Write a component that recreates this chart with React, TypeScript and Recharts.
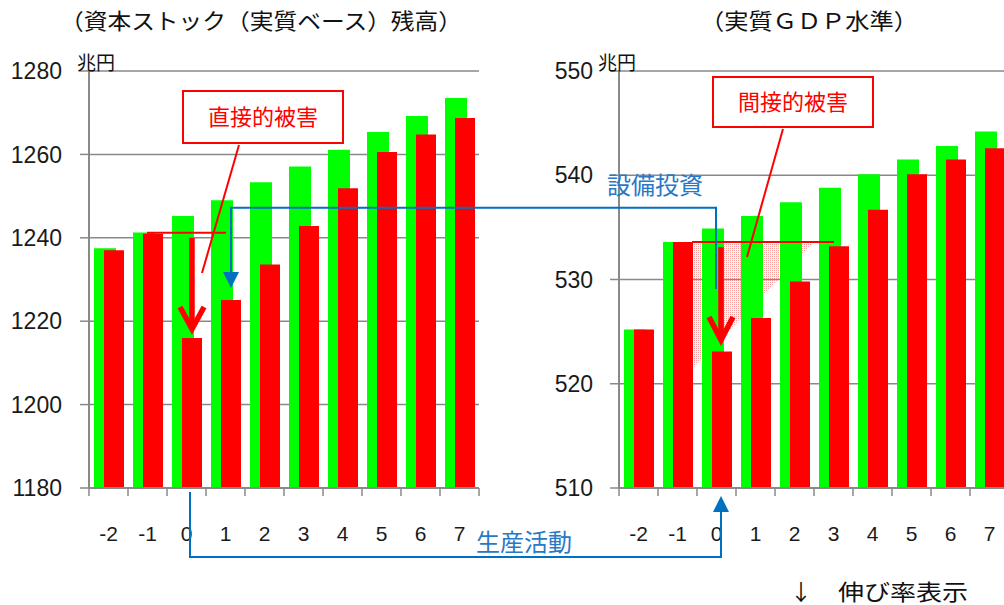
import React from "react";
import { BarChart, Bar, XAxis, YAxis, CartesianGrid } from "recharts";

// years relative to the disaster (0 = the year it hits)
const categories = ["-2", "-1", "0", "1", "2", "3", "4", "5", "6", "7"];

// capital stock (real), trillion yen
const stockBase = [1237.5, 1241.3, 1245.2, 1249.0, 1253.3, 1257.1, 1261.1, 1265.4, 1269.2, 1273.5];
const stockDamaged = [1237.0, 1241.0, 1216.0, 1225.1, 1233.6, 1242.8, 1251.9, 1260.6, 1264.8, 1268.7];
const stockTicks = [1180, 1200, 1220, 1240, 1260, 1280];

// real GDP level, trillion yen
const gdpBase = [525.2, 533.6, 534.9, 536.1, 537.4, 538.8, 540.1, 541.5, 542.8, 544.2];
const gdpDamaged = [525.2, 533.6, 523.1, 526.3, 529.8, 533.2, 536.7, 540.1, 541.5, 542.6];
const gdpTicks = [510, 520, 530, 540, 550];

const stockData = categories.map((cat, i) => ({ cat, base: stockBase[i], damaged: stockDamaged[i] }));
const gdpData = categories.map((cat, i) => ({ cat, base: gdpBase[i], damaged: gdpDamaged[i] }));

const GRAY = "#898989";
const GREEN = "#00ff00";
const RED = "#ff0000";
const BLUE = "#0070c0";
const NUM_FONT = "'Liberation Sans', Arial, sans-serif";
const JP_FONT = "'Noto Sans CJK JP', sans-serif";

const CHART_W = 490;
const CHART_H = 565;
const TOP = 71;
const BOTTOM = 488;
const AXIS_W = 89;
const BAND = (CHART_W - AXIS_W - 11) / categories.length;
const RIGHT_LEFT = 530;

// value -> pixel helpers for the annotations (same layout as the charts)
const yL = (v: number) => TOP + ((1280 - v) / 100) * (BOTTOM - TOP);
const yR = (v: number) => TOP + ((550 - v) / 40) * (BOTTOM - TOP);
const bandX = (offset: number, i: number) => offset + AXIS_W + BAND * i;

function CatTick(props: any) {
  const { x, payload, index } = props;
  const half = BAND / 2;
  return (
    <g>
      <line x1={x - half} x2={x - half} y1={BOTTOM} y2={BOTTOM + 8} stroke={GRAY} strokeWidth={1.5} />
      {index === categories.length - 1 && (
        <line x1={x + half} x2={x + half} y1={BOTTOM} y2={BOTTOM + 8} stroke={GRAY} strokeWidth={1.5} />
      )}
      <text x={x} y={BOTTOM + 53} textAnchor="middle" fontSize={21} fill="#1a1a1a" fontFamily={NUM_FONT}>
        {payload.value}
      </text>
    </g>
  );
}

function Panel({ data, domain, ticks, tickMargin }: { data: any[]; domain: [number, number]; ticks: number[]; tickMargin: number }) {
  return (
    <BarChart
      width={CHART_W}
      height={CHART_H}
      data={data}
      barGap={-12}
      margin={{ top: TOP, right: 11, left: 0, bottom: 0 }}
    >
      <CartesianGrid horizontal vertical={false} stroke={GRAY} strokeWidth={1.5} />
      <XAxis
        dataKey="cat"
        height={CHART_H - BOTTOM}
        interval={0}
        axisLine={{ stroke: GRAY, strokeWidth: 2 }}
        tickLine={false}
        tick={<CatTick />}
      />
      <YAxis
        type="number"
        domain={domain}
        ticks={ticks}
        interval={0}
        width={AXIS_W}
        axisLine={{ stroke: GRAY, strokeWidth: 2 }}
        tickLine={{ stroke: GRAY, strokeWidth: 1.5 }}
        tickSize={9}
        tickMargin={tickMargin}
        tick={{ fontSize: 23, fill: "#1a1a1a", fontFamily: NUM_FONT }}
      />
      <Bar dataKey="base" fill={GREEN} barSize={22} isAnimationActive={false} />
      <Bar dataKey="damaged" fill={RED} barSize={20} isAnimationActive={false} />
    </BarChart>
  );
}

export default function App() {
  // annotation anchors
  const shaftL = bandX(0, 2) + 25;
  const shaftR = bandX(RIGHT_LEFT, 2) + 24;
  const invest = 716;
  const investY = yL(1247.2);
  const arrowLX = bandX(0, 3) + 25;
  const prodL = bandX(0, 2) + 23;
  const prodY = 557;

  return (
    <div style={{ position: "absolute", left: 0, top: 0, width: 1004, height: 605, overflow: "hidden", background: "#fff" }}>
      {/* shaded "indirect damage" wedge sits behind the bars */}
      <svg width={1004} height={605} style={{ position: "absolute", left: 0, top: 0 }}>
        <defs>
          <pattern id="dots" width={2} height={2} patternUnits="userSpaceOnUse">
            <rect x={0} y={0} width={1} height={1} fill="#ff9c9c" />
          </pattern>
        </defs>
        <polygon
          points={`${bandX(RIGHT_LEFT, 1) + 35},${yR(533.6)} ${bandX(RIGHT_LEFT, 5) + 0},${yR(533.6)} ${bandX(RIGHT_LEFT, 1) + 35},${yR(521.5)}`}
          fill="url(#dots)"
        />
      </svg>

      <div style={{ position: "absolute", left: 0, top: 0 }}>
        <Panel data={stockData} domain={[1180, 1280]} ticks={stockTicks} tickMargin={18} />
      </div>
      <div style={{ position: "absolute", left: RIGHT_LEFT, top: 0 }}>
        <Panel data={gdpData} domain={[510, 550]} ticks={gdpTicks} tickMargin={17} />
      </div>

      <svg width={1004} height={605} style={{ position: "absolute", left: 0, top: 0, pointerEvents: "none" }}>
        {/* titles */}
        <text x={60} y={29} fontSize={22} fontFamily={JP_FONT} fill="#111" textLength={402} lengthAdjust="spacingAndGlyphs">
          （資本ストック（実質ベース）残高）
        </text>
        <text x={700} y={29} fontSize={22} fontFamily={JP_FONT} fill="#111" textLength={218} lengthAdjust="spacingAndGlyphs">
          （実質ＧＤＰ水準）
        </text>
        <text x={77} y={70} fontSize={19} fontFamily={JP_FONT} fill="#111">兆円</text>
        <text x={598} y={70} fontSize={19} fontFamily={JP_FONT} fill="#111">兆円</text>

        {/* direct damage */}
        <line x1={147} x2={226} y1={yL(1241.2)} y2={yL(1241.2)} stroke={RED} strokeWidth={2} />
        <line x1={shaftL} x2={shaftL} y1={yL(1240)} y2={326} stroke={RED} strokeWidth={5.5} />
        <polyline points={`${shaftL - 12},307 ${shaftL},329 ${shaftL + 12},307`} fill="none" stroke={RED} strokeWidth={5.5} />
        <line x1={239} y1={145} x2={202} y2={273} stroke={RED} strokeWidth={2} />
        <rect x={183} y={91} width={160} height={52} fill="#fff" stroke={RED} strokeWidth={2} />
        <text x={263} y={125} textAnchor="middle" fontSize={22} fontFamily={JP_FONT} fill={RED}>直接的被害</text>

        {/* indirect damage */}
        <line x1={692} x2={834} y1={yR(533.6)} y2={yR(533.6)} stroke={RED} strokeWidth={2} />
        <line x1={shaftR} x2={shaftR} y1={yR(533.1)} y2={338} stroke={RED} strokeWidth={5.5} />
        <polyline points={`${shaftR - 12},317 ${shaftR},340 ${shaftR + 12},317`} fill="none" stroke={RED} strokeWidth={5.5} />
        <line x1={783} y1={129} x2={747} y2={257} stroke={RED} strokeWidth={2} />
        <rect x={713} y={77} width={160} height={50} fill="#fff" stroke={RED} strokeWidth={2} />
        <text x={793} y={110} textAnchor="middle" fontSize={22} fontFamily={JP_FONT} fill={RED}>間接的被害</text>

        {/* investment link: GDP -> capital stock */}
        <polyline
          points={`${invest},289 ${invest},${investY} ${arrowLX},${investY} ${arrowLX},274`}
          fill="none"
          stroke={BLUE}
          strokeWidth={2}
        />
        <polygon points={`${arrowLX - 8},272 ${arrowLX + 8},272 ${arrowLX},288`} fill={BLUE} />
        <text x={607} y={194} fontSize={24} fontFamily={JP_FONT} fill="#2878c8">設備投資</text>

        {/* production link: capital stock -> GDP */}
        <polyline
          points={`${prodL},492 ${prodL},${prodY} ${shaftR},${prodY} ${shaftR},510`}
          fill="none"
          stroke={BLUE}
          strokeWidth={2}
        />
        <polygon points={`${shaftR - 8},512 ${shaftR + 8},512 ${shaftR},496`} fill={BLUE} />
        <text x={476} y={551} fontSize={24} fontFamily={JP_FONT} fill="#2878c8">生産活動</text>

        {/* footnote */}
        <text x={790} y={600} fontSize={22} fontFamily={JP_FONT} fill="#111">↓</text>
        <text x={838} y={600} fontSize={22} fontFamily={JP_FONT} fill="#111" textLength={130} lengthAdjust="spacingAndGlyphs">
          伸び率表示
        </text>
      </svg>
    </div>
  );
}
